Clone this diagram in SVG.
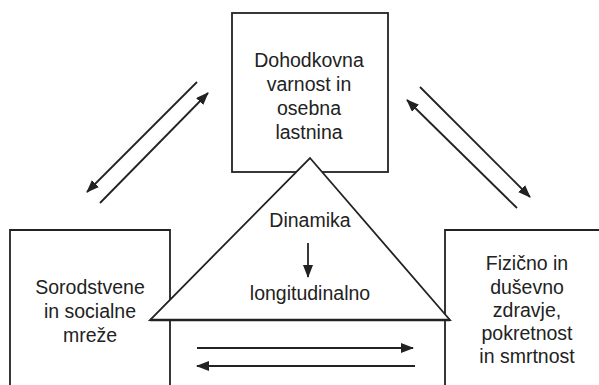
<svg xmlns="http://www.w3.org/2000/svg" width="599" height="385" viewBox="0 0 599 385">
<style>
.box{fill:#fff;stroke:#222;stroke-width:1.8}
.tri{fill:#fff;stroke:#222;stroke-width:1.8;stroke-linejoin:miter}
.lbl{font-family:"Liberation Sans",Arial,sans-serif;font-size:19.5px;fill:#222;text-anchor:middle}
.con{stroke:#222;stroke-width:1.8;fill:none;marker-end:url(#ah)}
</style>
<defs>
<marker id="ah" viewBox="0 0 13 10" refX="12" refY="5" markerWidth="13" markerHeight="10" markerUnits="userSpaceOnUse" orient="auto">
<path d="M0,0 L13,5 L0,10 z" fill="#222"/>
</marker>
</defs>
<rect width="599" height="385" fill="#fff"/>
<g id="node-left">
<path class="box" d="M10,388 V230 H170 V388"/>
<text class="lbl" x="90" y="294">Sorodstvene</text>
<text class="lbl" x="90" y="318">in socialne</text>
<text class="lbl" x="90" y="342">mreže</text>
</g>
<g id="node-right">
<path class="box" d="M445,388 V230 H602"/>
<text class="lbl" x="527" y="270">Fizično in</text>
<text class="lbl" x="527" y="293.5">duševno</text>
<text class="lbl" x="527" y="317">zdravje,</text>
<text class="lbl" x="527" y="340">pokretnost</text>
<text class="lbl" x="527" y="363">in smrtnost</text>
</g>
<g id="node-top">
<rect class="box" x="232" y="13" width="156" height="159"/>
<text class="lbl" x="309" y="67">Dohodkovna</text>
<text class="lbl" x="309" y="91">varnost in</text>
<text class="lbl" x="309" y="115">osebna</text>
<text class="lbl" x="309" y="139">lastnina</text>
</g>
<g id="node-center">
<polygon class="tri" points="310,158 450,320 150,320"/>
<line x1="150" y1="320" x2="450" y2="320" stroke="#222" stroke-width="2.4"/>
<text class="lbl" x="310" y="227">Dinamika</text>
<text class="lbl" x="310" y="300">longitudinalno</text>
<line class="con" x1="308" y1="243" x2="308" y2="277"/>
</g>
<g id="connectors">
<line class="con" x1="197" y1="82" x2="87" y2="192"/>
<line class="con" x1="100" y1="203" x2="208" y2="93"/>
<line class="con" x1="420" y1="87" x2="530" y2="197"/>
<line class="con" x1="517" y1="208" x2="407" y2="100"/>
<line class="con" x1="197" y1="348" x2="413" y2="348"/>
<line class="con" x1="415" y1="366" x2="197" y2="366"/>
</g>
</svg>
